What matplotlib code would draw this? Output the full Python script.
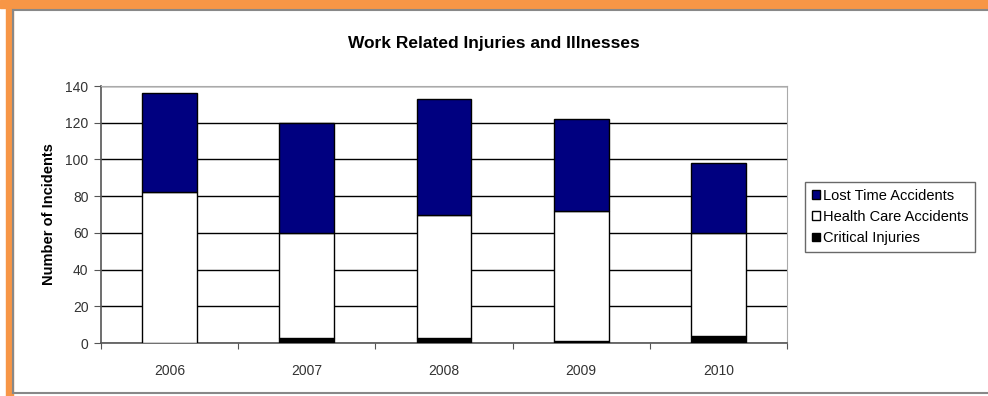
import matplotlib
matplotlib.use("Agg")
import matplotlib.pyplot as plt
from matplotlib.patches import Rectangle
import numpy as np

plt.rcParams['font.family'] = ['Liberation Sans', 'DejaVu Sans']

# dados
anos = ["2006", "2007", "2008", "2009", "2010"]
criticos = [0, 3, 3, 1, 4]
cuidados_saude = [82, 57, 67, 71, 56]
tempo_perdido = [54, 60, 63, 50, 38]

fig = plt.figure(figsize=(9.88, 3.96), dpi=100)
ax = fig.add_axes([0.1022, 0.1338, 0.6944, 0.649])

x = np.arange(len(anos))
largura = 0.4
base2 = np.array(criticos)
base3 = base2 + np.array(cuidados_saude)

ax.bar(x, criticos, largura, color="black", edgecolor="black", linewidth=1,
       label="Critical Injuries", zorder=3)
ax.bar(x, cuidados_saude, largura, bottom=base2, color="white", edgecolor="black",
       linewidth=1, label="Health Care Accidents", zorder=3)
ax.bar(x, tempo_perdido, largura, bottom=base3, color="#000080", edgecolor="black",
       linewidth=1, label="Lost Time Accidents", zorder=3)

ax.set_xlim(-0.5, len(anos) - 0.5)
ax.set_ylim(0, 140)
ax.set_yticks(range(0, 141, 20))
ax.yaxis.grid(True, color="black", linewidth=1)
ax.set_axisbelow(True)

# ticks do eixo x nos limites das categorias
ax.set_xticks(np.arange(-0.5, len(anos), 1.0))
ax.set_xticklabels([])
ax.set_xticks(x, minor=True)
ax.set_xticklabels(anos, minor=True)
ax.tick_params(axis="x", which="minor", length=0, pad=15, labelsize=10)
ax.tick_params(axis="x", which="major", length=4, direction="out", color="#555555")
ax.tick_params(axis="y", length=5, direction="out", labelsize=10, color="#555555",
               labelcolor="#333333", pad=4)
ax.tick_params(axis="x", which="minor", labelcolor="#333333")

for lado in ["top", "right"]:
    ax.spines[lado].set_color("#aaaaaa")
for lado in ["left", "bottom"]:
    ax.spines[lado].set_color("#555555")
    ax.spines[lado].set_linewidth(1.2)

ax.set_ylabel("Number of Incidents", fontsize=10.5, fontweight="bold", labelpad=7)
fig.text(0.5, 0.891, "Work Related Injuries and Illnesses", ha="center", va="center",
         fontsize=12.5, fontweight="bold")

handles, labels = ax.get_legend_handles_labels()
leg = fig.legend(handles[::-1], labels[::-1], loc="upper left",
                 bbox_to_anchor=(0.8148, 0.5404), fontsize=10.5, frameon=True,
                 fancybox=False, edgecolor="#444444", handlelength=0.55,
                 handleheight=0.55, handletextpad=0.2, labelspacing=0.5,
                 borderpad=0.45, borderaxespad=0)
leg.get_frame().set_linewidth(1.0)

# moldura laranja e cinza
fig.patches.append(Rectangle((0, 0.98), 1, 0.02, transform=fig.transFigure,
                             color="#F79646", zorder=0))
fig.patches.append(Rectangle((0.006, 0), 0.007, 1, transform=fig.transFigure,
                             color="#F79646", zorder=0))
fig.add_artist(plt.Line2D([0.0135, 1], [0.975, 0.975], transform=fig.transFigure,
                          color="#888888", linewidth=1.5))
fig.add_artist(plt.Line2D([0.0135, 0.0135], [0.0065, 0.975], transform=fig.transFigure,
                          color="#888888", linewidth=1.5))
fig.add_artist(plt.Line2D([0.0135, 1], [0.0065, 0.0065], transform=fig.transFigure,
                          color="#888888", linewidth=1.5))

fig.savefig("out.png", dpi=100)
